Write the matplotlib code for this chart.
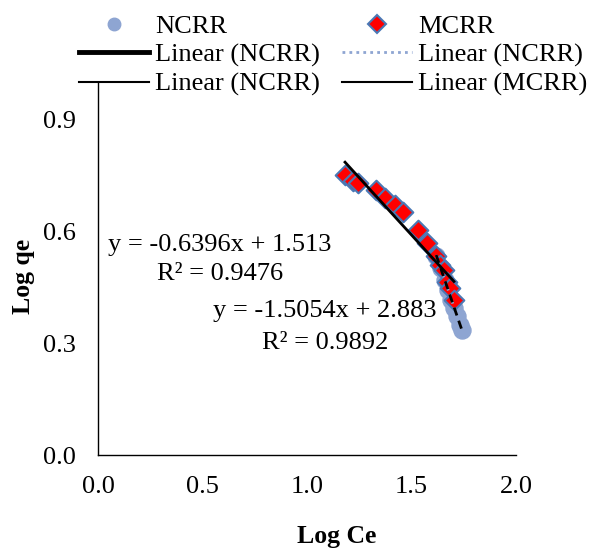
import numpy as np
import matplotlib
matplotlib.use("Agg")
from matplotlib import pyplot as plt
from matplotlib.lines import Line2D

# data
ncrrX = [1.618, 1.642, 1.661, 1.675, 1.690, 1.704, 1.718, 1.733, 1.742]
ncrrY = [0.533, 0.501, 0.469, 0.442, 0.416, 0.394, 0.373, 0.348, 0.335]
mcrrX = [1.182, 1.220, 1.244, 1.330, 1.373, 1.421, 1.459, 1.531, 1.574,
         1.617, 1.636, 1.656, 1.670, 1.684, 1.703]
mcrrY = [0.750, 0.735, 0.729, 0.710, 0.689, 0.670, 0.651, 0.603, 0.568,
         0.533, 0.509, 0.496, 0.464, 0.448, 0.416]
eqMcrr = ["y = -0.6396x + 1.513", "R² = 0.9476"]
eqNcrr = ["y = -1.5054x + 2.883", "R² = 0.9892"]
xTicks = [0.0, 0.5, 1.0, 1.5, 2.0]
yTicks = [0.0, 0.3, 0.6, 0.9]

FS = 19
plt.rcParams['font.family'] = ['Liberation Serif', 'DejaVu Serif']

fig = plt.figure(figsize=(5.89, 5.48), dpi=100)
ax = fig.add_axes([98/589, 1-455/548, 418/589, 373/548])

cCirc = '#8EA5D2'
cEdge = '#4A78B5'

ax.scatter(ncrrX, ncrrY, s=150, color=cCirc, zorder=2)
ax.scatter(mcrrX, mcrrY, s=100, marker='D', color='red', edgecolor=cEdge,
           linewidth=1.5, zorder=3)

# trend lines
pN = np.polyfit(ncrrX, ncrrY, 1)
pM = np.polyfit(mcrrX, mcrrY, 1)
xn = np.array([min(ncrrX), max(ncrrX)])
xm = np.array([min(mcrrX), max(mcrrX)])
ax.plot(xn, np.polyval(pN, xn), color=cCirc, lw=2, ls=(0, (1, 1.5)), zorder=4)
ax.plot(xn, np.polyval(pN, xn), color='black', lw=2, ls=(0, (3, 2)), zorder=5)
ax.plot(xm, np.polyval(pM, xm), color='black', lw=2, zorder=4)

ax.text(0.048, 0.547, eqMcrr[0], fontsize=FS, ha='left', va='baseline')
ax.text(0.282, 0.469, eqMcrr[1], fontsize=FS, ha='left', va='baseline')
ax.text(0.550, 0.370, eqNcrr[0], fontsize=FS, ha='left', va='baseline')
ax.text(0.785, 0.284, eqNcrr[1], fontsize=FS, ha='left', va='baseline')

ax.set_xlim(0, 2.0)
ax.set_ylim(0, 1.0)
ax.set_xticks(xTicks)
ax.set_xticklabels([f"{v:.1f}" for v in xTicks])
ax.set_yticks(yTicks)
ax.set_yticklabels([f"{v:.1f}" for v in yTicks])
ax.tick_params(length=0, labelsize=FS)
ax.tick_params(axis='x', pad=15)
ax.tick_params(axis='y', pad=16)
for s in ['top', 'right']:
    ax.spines[s].set_visible(False)
for s in ['left', 'bottom']:
    ax.spines[s].set_linewidth(1.0)
    ax.spines[s].set_color('black')

ax.set_xlabel("Log Ce", fontsize=18.5, fontweight='bold')
ax.set_ylabel("Log qe", fontsize=18.5, fontweight='bold')
ax.xaxis.set_label_coords(0.57, -0.188)
ax.yaxis.set_label_coords(-0.15, 0.48)

handles = [
    Line2D([], [], ls='', marker='o', ms=9, color=cCirc),
    Line2D([], [], color='black', lw=3.5),
    Line2D([], [], color='black', lw=1.5),
    Line2D([], [], ls='', marker='D', ms=9, mfc='red', mec=cEdge, mew=1.5),
    Line2D([], [], color=cCirc, lw=2, ls=(0, (1, 1.5))),
    Line2D([], [], color='black', lw=1.5),
]
labels = ["NCRR", "Linear (NCRR)", "Linear (NCRR)",
          "MCRR", "Linear (NCRR)", "Linear (MCRR)"]
fig.legend(handles, labels, ncol=2, loc='upper right',
           bbox_to_anchor=(1.0, 0.976), frameon=False, fontsize=FS,
           handlelength=2.65, handletextpad=0.23, columnspacing=0.84,
           labelspacing=0.2, borderaxespad=0.05, borderpad=0.0)

fig.savefig("out.png", dpi=100)
